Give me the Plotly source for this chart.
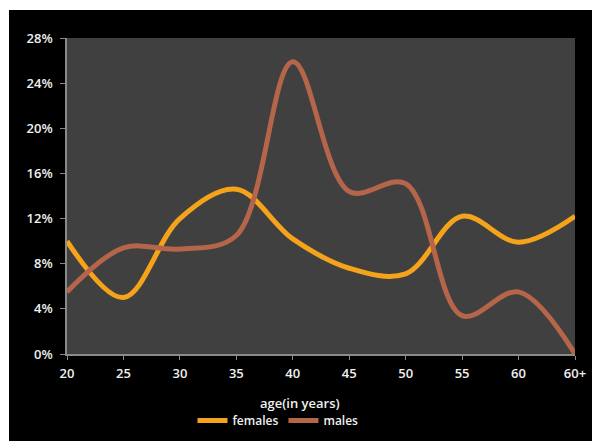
import plotly.graph_objects as go

categories = ["20", "25", "30", "35", "40", "45", "50", "55", "60", "60+"]
females = [10.0, 5.0, 12.0, 14.6, 10.2, 7.6, 7.1, 12.2, 9.9, 12.2]
males = [5.5, 9.4, 9.3, 10.5, 25.9, 14.4, 15.1, 3.4, 5.5, 0.0]

W, H = 600, 441
L, R, T, B = 59, 33, 30, 95
pw, ph = W - L - R, H - T - B

FAM = "Open Sans, Lato, sans-serif"
font = dict(family=FAM, size=13, color="#f0f0f0", weight=600)

def px_x(p):
    return (p - L) / pw

def px_y(p):
    return (H - B - p) / ph

fig = go.Figure()
fig.add_trace(go.Scatter(x=categories, y=females, name="females", mode="lines",
                         line=dict(color="#F5A31A", width=5, shape="spline", smoothing=1.0)))
fig.add_trace(go.Scatter(x=categories, y=males, name="males", mode="lines",
                         line=dict(color="#B5654A", width=5, shape="spline", smoothing=1.0)))

# thin white strips at top/left (page margin look)
fig.add_shape(type="rect", xref="paper", yref="paper",
              x0=px_x(-2), x1=px_x(W + 2), y0=px_y(2), y1=px_y(-2),
              fillcolor="white", line=dict(width=0), layer="below")
fig.add_shape(type="rect", xref="paper", yref="paper",
              x0=px_x(-2), x1=px_x(1), y0=px_y(H + 2), y1=px_y(-2),
              fillcolor="white", line=dict(width=0), layer="below")
# gray plot area
fig.add_shape(type="rect", xref="paper", yref="paper", x0=0, x1=1, y0=0, y1=1,
              fillcolor="#404040", line=dict(width=0), layer="below")

fig.add_annotation(text="age(in years)", xref="paper", yref="paper",
                   x=px_x(292), y=px_y(395), xanchor="center", yanchor="middle",
                   showarrow=False, font=font)

fig.update_layout(
    width=W, height=H,
    margin=dict(l=L, r=R, t=T, b=B, autoexpand=False),
    paper_bgcolor="black",
    plot_bgcolor="#404040",
    font=font,
    showlegend=True,
    legend=dict(orientation="h", x=px_x(270), xanchor="center", y=px_y(398), yanchor="top",
                font=dict(family=FAM, size=12, color="#f0f0f0", weight=600),
                bgcolor="rgba(0,0,0,0)", tracegroupgap=0, itemwidth=30,
                itemsizing="constant"),
    xaxis=dict(type="category", range=[0, 9], showgrid=False, zeroline=False,
               showline=True, linecolor="#8a8a8a", linewidth=1.5,
               ticks="outside", ticklen=4, tickcolor="#8a8a8a",
               tickfont=font, automargin=False, ticklabelstandoff=3),
    yaxis=dict(range=[0, 28], dtick=4, ticksuffix="%", showgrid=False, zeroline=False,
               showline=True, linecolor="#8a8a8a", linewidth=1.5,
               ticks="outside", ticklen=5, tickcolor="#8a8a8a",
               tickfont=font, automargin=False, ticklabelstandoff=5),
)

fig.write_html("out.html")
